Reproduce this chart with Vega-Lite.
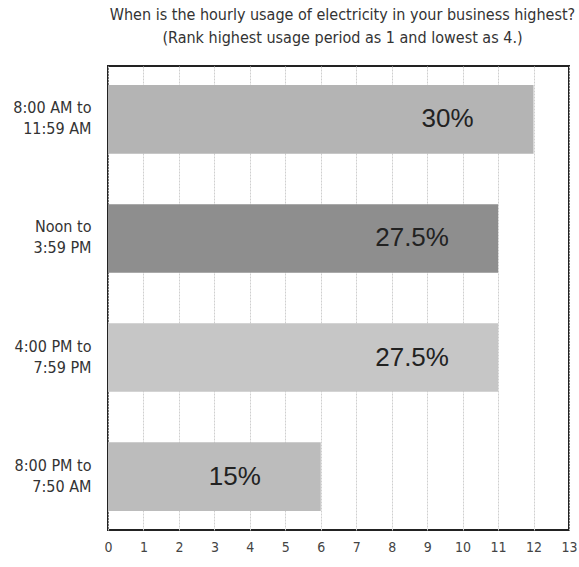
{
  "$schema": "https://vega.github.io/schema/vega-lite/v6.json",
  "autosize": {"type": "none"},
  "padding": {"left": 108, "top": 66, "right": 10, "bottom": 37},
  "width": 461,
  "height": 464,
  "background": "white",
  "title": {
    "text": ["When is the hourly usage of electricity in your business highest?", "(Rank highest usage period as 1 and lowest as 4.)"],
    "font": "DejaVu Sans Condensed, Liberation Sans",
    "fontSize": 16,
    "fontWeight": "normal",
    "color": "#333",
    "lineHeight": 23,
    "anchor": "middle",
    "dx": 4,
    "offset": 20
  },
  "config": {
    "view": {"stroke": "#222", "strokeWidth": 2},
    "font": "Liberation Sans"
  },
  "data": {
    "values": [
      {"period": "8:00 AM to|11:59 AM", "value": 12, "label": "30%"},
      {"period": "Noon to|3:59 PM", "value": 11, "label": "27.5%"},
      {"period": "4:00 PM to|7:59 PM", "value": 11, "label": "27.5%"},
      {"period": "8:00 PM to|7:50 AM", "value": 6, "label": "15%"}
    ]
  },
  "encoding": {
    "y": {
      "field": "period",
      "type": "nominal",
      "sort": null,
      "scale": {"paddingInner": 0.424, "paddingOuter": 0.16},
      "axis": {
        "title": null,
        "domain": false,
        "ticks": false,
        "labelPadding": 17,
        "labelOffset": -11,
        "labelExpr": "split(datum.label, '|')",
        "labelFont": "DejaVu Sans Condensed, Liberation Sans",
        "labelFontSize": 16,
        "labelLineHeight": 21,
        "labelColor": "#333",
        "labelAlign": "right",
        "labelBaseline": "middle"
      }
    },
    "x": {
      "field": "value",
      "type": "quantitative",
      "scale": {"domain": [0, 13], "nice": false},
      "axis": {
        "title": null,
        "values": [0,1,2,3,4,5,6,7,8,9,10,11,12,13],
        "domain": false,
        "ticks": false,
        "grid": true,
        "gridColor": "#cfcfcf",
        "gridWidth": 1,
        "gridDash": [2, 1],
        "labelPadding": 10,
        "labelFont": "DejaVu Sans Condensed, Liberation Sans",
        "labelFontSize": 14,
        "labelColor": "#444",
        "labelFlush": false
      }
    }
  },
  "layer": [
    {
      "mark": {"type": "bar"},
      "encoding": {
        "color": {
          "field": "period",
          "type": "nominal",
          "sort": null,
          "scale": {"range": ["#b4b4b4", "#8e8e8e", "#c6c6c6", "#bcbcbc"]},
          "legend": null
        }
      }
    },
    {
      "mark": {"type": "text", "align": "center", "baseline": "middle", "dx": -86, "fontSize": 26, "color": "#222", "font": "Liberation Sans"},
      "encoding": {
        "text": {"field": "label"}
      }
    }
  ]
}
